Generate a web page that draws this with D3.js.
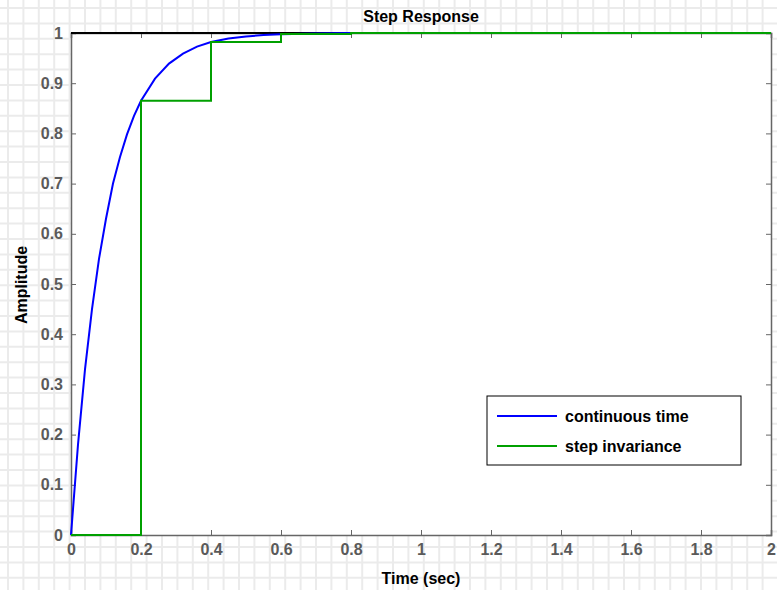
<!DOCTYPE html>
<html><head><meta charset="utf-8">
<script src="https://cdn.jsdelivr.net/npm/d3@7"></script>
<style>body{margin:0;background:#fff}svg{display:block}text{font-family:"Liberation Sans",Arial,sans-serif;font-weight:bold}</style>
</head><body>
<svg id="c" width="777" height="590"></svg>
<script>
const contT = [0,0.02,0.04,0.06,0.08,0.1,0.12,0.14,0.16,0.18,0.2,0.24,0.28,0.32,0.36,0.4,0.45,0.5,0.55,0.6,0.7,0.8];
const contY = [0,0.18,0.33,0.45,0.55,0.63,0.70,0.753,0.798,0.835,0.865,0.909,0.939,0.959,0.973,0.982,0.989,0.993,0.996,0.9975,0.999,1.0];
const stepT = [0,0.2,0.4,0.6,0.8,1.0,1.2,1.4,1.6,1.8,2.0];
const stepY = [0,0.865,0.982,0.998,1,1,1,1,1,1,1];
const xTicks = [0,0.2,0.4,0.6,0.8,1,1.2,1.4,1.6,1.8,2];
const yTicks = [0,0.1,0.2,0.3,0.4,0.5,0.6,0.7,0.8,0.9,1];
const legendLabels = ["continuous time","step invariance"];
const colors = ["#0000ff","#00a000"];

const W=777,H=590, m={l:71,r:6,t:33,b:55};
const svg=d3.select("#c");
// graph-paper background
const bg=svg.append("g");
const step=15.4;
for(let x=8;x<W;x+=step) bg.append("line").attr("x1",x).attr("x2",x).attr("y1",0).attr("y2",H).attr("stroke","#ebebeb").attr("stroke-width",2);
for(let y=8;y<H;y+=step) bg.append("line").attr("y1",y).attr("y2",y).attr("x1",0).attr("x2",W).attr("stroke","#ebebeb").attr("stroke-width",2);

const x=d3.scaleLinear().domain([0,2]).range([m.l,W-m.r]);
const y=d3.scaleLinear().domain([0,1]).range([H-m.b,m.t]);
svg.append("rect").attr("x",x(0)).attr("y",y(1)).attr("width",x(2)-x(0)).attr("height",y(0)-y(1)).attr("fill","#fff");

const g=svg.append("g");
// axes
const ax=g.append("g").attr("transform",`translate(0,${y(0)})`).call(d3.axisBottom(x).tickValues(xTicks).tickSize(-5).tickPadding(9).tickFormat(d3.format("")));
const ax2=g.append("g").attr("transform",`translate(0,${y(1)})`).call(d3.axisTop(x).tickValues(xTicks).tickSize(-5).tickFormat(""));
const ay=g.append("g").attr("transform",`translate(${x(0)},0)`).call(d3.axisLeft(y).tickValues(yTicks).tickSize(-5).tickPadding(8).tickFormat(d3.format("")));
const ay2=g.append("g").attr("transform",`translate(${x(2)},0)`).call(d3.axisRight(y).tickValues(yTicks).tickSize(-5).tickFormat(""));
[ax,ax2,ay,ay2].forEach(a=>{a.selectAll("path").attr("stroke","#666").attr("stroke-width",1.5);a.selectAll("line").attr("stroke","#666");a.selectAll("text").attr("fill","#5a5a5a").attr("font-size",16).attr("font-weight","bold");});

// steady-state line
g.append("line").attr("x1",x(0)).attr("x2",x(2)).attr("y1",y(1)).attr("y2",y(1)).attr("stroke","#000").attr("stroke-width",2);

const line=d3.line().x(d=>x(d[0])).y(d=>y(d[1]));
g.append("path").datum(contT.map((t,i)=>[t,contY[i]])).attr("d",line).attr("fill","none").attr("stroke",colors[0]).attr("stroke-width",2);
g.append("path").datum(stepT.map((t,i)=>[t,stepY[i]])).attr("d",line.curve(d3.curveStepAfter)).attr("fill","none").attr("stroke",colors[1]).attr("stroke-width",2);

// labels
svg.append("text").attr("x",421).attr("y",22).attr("text-anchor","middle").attr("font-size",16).text("Step Response");
svg.append("text").attr("x",421).attr("y",584).attr("text-anchor","middle").attr("font-size",16).text("Time (sec)");
svg.append("text").attr("transform","translate(27,285) rotate(-90)").attr("text-anchor","middle").attr("font-size",16).text("Amplitude");

// legend
const lg=svg.append("g").attr("transform","translate(487,396)");
lg.append("rect").attr("width",254).attr("height",69).attr("fill","#fff").attr("stroke","#000").attr("stroke-width",1);
legendLabels.forEach((l,i)=>{
  const yy=20+i*30;
  lg.append("line").attr("x1",10).attr("x2",70).attr("y1",yy).attr("y2",yy).attr("stroke",colors[i]).attr("stroke-width",2);
  lg.append("text").attr("x",78).attr("y",yy+6).attr("font-size",16).attr("fill","#000").text(l);
});
</script>
</body></html>
